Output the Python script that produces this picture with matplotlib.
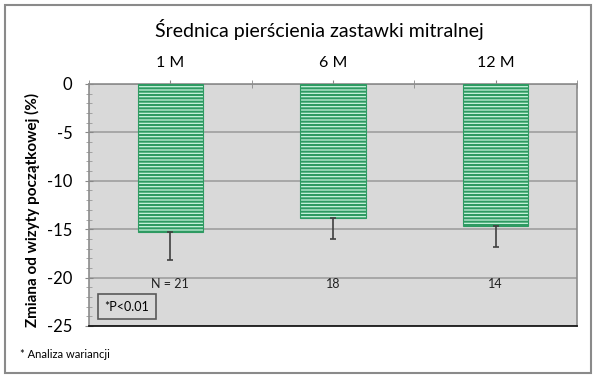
import matplotlib
matplotlib.use("Agg")
import matplotlib.pyplot as plt
from matplotlib.patches import Rectangle
from matplotlib.ticker import MultipleLocator, FixedLocator

categories = ["1 M", "6 M", "12 M"]
means = [-15.3, -13.8, -14.7]
err_low = [2.9, 2.2, 2.1]
n_labels = ["N = 21", "18", "14"]
title = "Średnica pierścienia zastawki mitralnej"
ylabel = "Zmiana od wizyty początkowej (%)"
pval_text = "*P<0.01"
footnote = "* Analiza wariancji"

plt.rcParams['font.family'] = ['Lato', 'DejaVu Sans']
plt.rcParams['axes.unicode_minus'] = False
plt.rcParams['hatch.linewidth'] = 1.5
plt.rcParams['hatch.color'] = '#2e9a62'

fig = plt.figure(figsize=(5.96, 3.80), dpi=100)
fig.patch.set_facecolor('white')
fig.patches.append(Rectangle((5/596, 1-373/380), 586/596, 368/380, transform=fig.transFigure,
                             fill=False, edgecolor='#8a8a8a', linewidth=1.5, zorder=0))

ax = fig.add_axes([89/596, 1-326/380, 488/596, 242/380])
ax.set_facecolor('#d9d9d9')

x = list(range(len(categories)))
ax.bar(x, means, width=0.4, color='#c9f3de', edgecolor='#2e9a62', hatch='-----',
       linewidth=0.8, zorder=3)
ax.errorbar(x, means, yerr=[err_low, [0]*len(err_low)], fmt='none', ecolor='#404040',
            elinewidth=1.2, capsize=2.5, capthick=1.2, zorder=4)

ax.set_xlim(-0.5, 2.5)
ax.set_ylim(-25, 0)
ax.yaxis.set_major_locator(MultipleLocator(5))
ax.yaxis.set_minor_locator(MultipleLocator(1))
ax.grid(axis='y', which='major', color='#a3a3a3', linewidth=1.3, zorder=1)
ax.set_axisbelow(True)

ax.xaxis.tick_top()
ax.set_xticks(x)
ax.set_xticklabels(categories, fontsize=11.5)
ax.xaxis.set_minor_locator(FixedLocator([-0.5, 0.5, 1.5, 2.5]))
ax.tick_params(axis='x', which='both', direction='inout', length=6, color='#888888', pad=7)
ax.tick_params(axis='y', which='major', direction='inout', length=6, color='#888888',
               labelsize=12, pad=9)
ax.tick_params(axis='y', which='minor', direction='inout', length=4, color='#999999')

for s in ['top', 'left', 'right']:
    ax.spines[s].set_color('#8c8c8c')
    ax.spines[s].set_linewidth(1.2)
ax.spines['bottom'].set_color('#1a1a1a')
ax.spines['bottom'].set_linewidth(1.3)

for xi, lab in zip(x, n_labels):
    ax.text(xi, -20.7, lab, ha='center', va='center', fontsize=9, color='#222222', zorder=5)

ax.text(0.078, 0.08, pval_text, transform=ax.transAxes, ha='center', va='center', fontsize=9,
        bbox=dict(boxstyle='square,pad=0.5', facecolor='#d9d9d9', edgecolor='#595959', linewidth=1.2),
        zorder=5)

fig.text(32/596, 1-210/380, ylabel, rotation=90, ha='center', va='center', fontsize=11,
         fontweight='bold')
fig.text(319/596, 1-30/380, title, ha='center', va='center', fontsize=14)
fig.text(20/596, 1-355/380, footnote, ha='left', va='center', fontsize=8)

fig.savefig('out.png', dpi=100)
